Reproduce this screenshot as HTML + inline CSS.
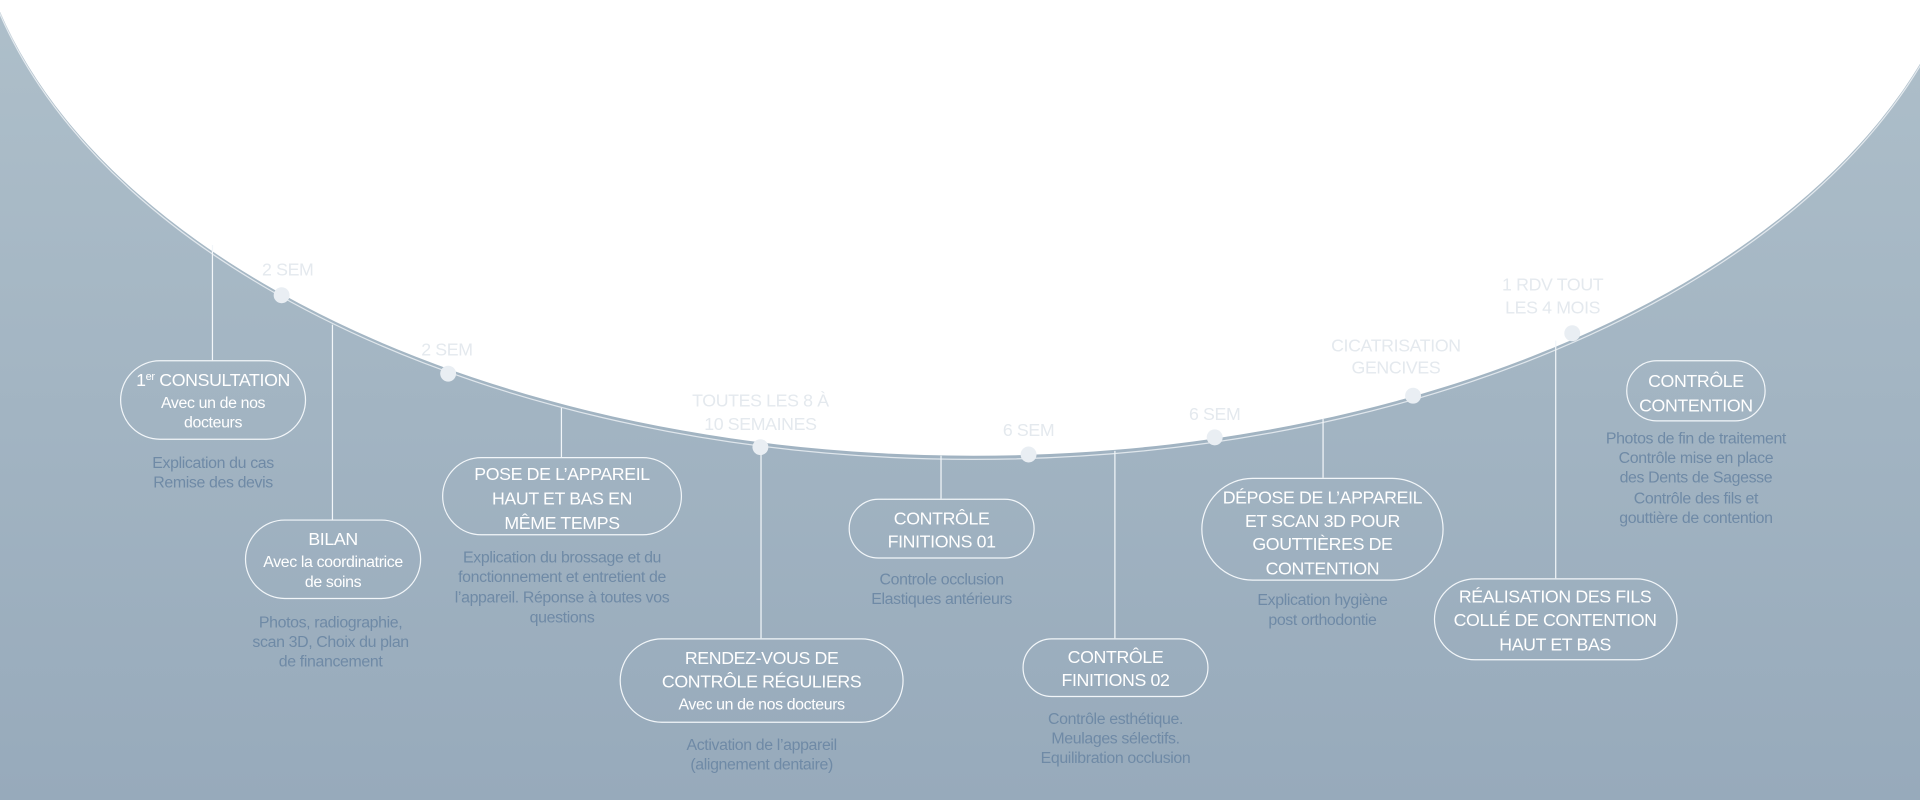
<!DOCTYPE html>
<html><head><meta charset="utf-8"><style>
html,body{margin:0;padding:0;width:1920px;height:800px;overflow:hidden}
svg{display:block}
text{font-family:"Liberation Sans",sans-serif;text-anchor:middle}
.t{fill:#fff;font-size:14.5px;font-weight:500;letter-spacing:-0.3px}
.s{fill:#fff;font-size:13px;letter-spacing:-0.3px}
.d{fill:#6f8aa6;font-size:13px;letter-spacing:-0.3px}
.l{fill:#e4e9ee;font-size:14.5px;letter-spacing:-0.3px}
.b{fill:none;stroke:#f2f6f9;stroke-width:1}
.v{stroke:#f2f6f9;stroke-width:1}
.dot{fill:#e9eef3}
</style></head><body>
<svg width="1920" height="800" viewBox="0 0 1568 653" preserveAspectRatio="none">
<defs><linearGradient id="g" x1="0" y1="0" x2="0" y2="1">
<stop offset="0" stop-color="#aebfca"/><stop offset="1" stop-color="#97aabb"/></linearGradient></defs>
<rect width="1568" height="653" fill="url(#g)"/>
<ellipse cx="795" cy="-108" rx="820.5" ry="483" fill="none" stroke="#f4f7fa" stroke-opacity="0.75" stroke-width="1"/>
<ellipse cx="795" cy="-108" rx="820" ry="480" fill="#fff"/>
<g class="v">
<line x1="173.5" y1="200" x2="173.5" y2="294"/>
<line x1="271.5" y1="265" x2="271.5" y2="424"/>
<line x1="458.5" y1="333" x2="458.5" y2="373"/>
<line x1="621.5" y1="365" x2="621.5" y2="521"/>
<line x1="768.5" y1="372" x2="768.5" y2="407"/>
<line x1="910.5" y1="368" x2="910.5" y2="521"/>
<line x1="1080.5" y1="342" x2="1080.5" y2="390"/>
<line x1="1270.5" y1="278" x2="1270.5" y2="472"/>
</g>
<g class="dot">
<circle cx="230" cy="241" r="6.5"/><circle cx="366" cy="305" r="6.5"/><circle cx="621" cy="365" r="6.5"/>
<circle cx="840" cy="371" r="6.5"/><circle cx="992" cy="357" r="6.5"/><circle cx="1154" cy="323" r="6.5"/><circle cx="1284" cy="272" r="6.5"/>
</g>
<text class="l" x="235" y="225">2 SEM</text>
<text class="l" x="365" y="290">2 SEM</text>
<text class="l" x="621" y="332">TOUTES LES 8 À</text>
<text class="l" x="621" y="351">10 SEMAINES</text>
<text class="l" x="840" y="356">6 SEM</text>
<text class="l" x="992" y="343">6 SEM</text>
<text class="l" x="1140" y="287">CICATRISATION</text>
<text class="l" x="1140" y="305">GENCIVES</text>
<text class="l" x="1268" y="237">1 RDV TOUT</text>
<text class="l" x="1268" y="256">LES 4 MOIS</text>

<rect class="b" x="98.5" y="294.5" width="151" height="64" rx="32"/>
<text class="t" x="174" y="315">1<tspan font-size="9" dy="-5">er</tspan><tspan dy="5"> CONSULTATION</tspan></text>
<text class="s" x="174" y="333">Avec un de nos</text>
<text class="s" x="174" y="349">docteurs</text>
<text class="d" x="174" y="382">Explication du cas</text>
<text class="d" x="174" y="398">Remise des devis</text>

<rect class="b" x="200.5" y="424.5" width="143" height="64" rx="32"/>
<text class="t" x="272" y="445">BILAN</text>
<text class="s" x="272" y="463">Avec la coordinatrice</text>
<text class="s" x="272" y="479">de soins</text>
<text class="d" x="270" y="512">Photos, radiographie,</text>
<text class="d" x="270" y="528">scan 3D, Choix du plan</text>
<text class="d" x="270" y="544">de financement</text>

<rect class="b" x="361.5" y="373.5" width="195" height="63" rx="31.5"/>
<text class="t" x="459" y="392">POSE DE L’APPAREIL</text>
<text class="t" x="459" y="412">HAUT ET BAS EN</text>
<text class="t" x="459" y="432">MÊME TEMPS</text>
<text class="d" x="459" y="459">Explication du brossage et du</text>
<text class="d" x="459" y="475">fonctionnement et entretient de</text>
<text class="d" x="459" y="492">l’appareil. Réponse à toutes vos</text>
<text class="d" x="459" y="508">questions</text>

<rect class="b" x="506.5" y="521.5" width="231" height="68" rx="34"/>
<text class="t" x="622" y="542">RENDEZ-VOUS DE</text>
<text class="t" x="622" y="561">CONTRÔLE RÉGULIERS</text>
<text class="s" x="622" y="579">Avec un de nos docteurs</text>
<text class="d" x="622" y="612">Activation de l’appareil</text>
<text class="d" x="622" y="628">(alignement dentaire)</text>

<rect class="b" x="693.5" y="407.5" width="151" height="48" rx="24"/>
<text class="t" x="769" y="428">CONTRÔLE</text>
<text class="t" x="769" y="447">FINITIONS 01</text>
<text class="d" x="769" y="477">Controle occlusion</text>
<text class="d" x="769" y="493">Elastiques antérieurs</text>

<rect class="b" x="835.5" y="521.5" width="151" height="47" rx="23.5"/>
<text class="t" x="911" y="541">CONTRÔLE</text>
<text class="t" x="911" y="560">FINITIONS 02</text>
<text class="d" x="911" y="591">Contrôle esthétique.</text>
<text class="d" x="911" y="607">Meulages sélectifs.</text>
<text class="d" x="911" y="623">Equilibration occlusion</text>

<rect class="b" x="981.5" y="390.5" width="197" height="83" rx="41.5"/>
<text class="t" x="1080" y="411">DÉPOSE DE L’APPAREIL</text>
<text class="t" x="1080" y="430">ET SCAN 3D POUR</text>
<text class="t" x="1080" y="449">GOUTTIÈRES DE</text>
<text class="t" x="1080" y="469">CONTENTION</text>
<text class="d" x="1080" y="494">Explication hygiène</text>
<text class="d" x="1080" y="510">post orthodontie</text>

<rect class="b" x="1171.5" y="472.5" width="198" height="66" rx="33"/>
<text class="t" x="1270" y="492">RÉALISATION DES FILS</text>
<text class="t" x="1270" y="511">COLLÉ DE CONTENTION</text>
<text class="t" x="1270" y="531">HAUT ET BAS</text>

<rect class="b" x="1328.5" y="294.5" width="113" height="49" rx="24.5"/>
<text class="t" x="1385" y="316">CONTRÔLE</text>
<text class="t" x="1385" y="336">CONTENTION</text>
<text class="d" x="1385" y="362">Photos de fin de traitement</text>
<text class="d" x="1385" y="378">Contrôle mise en place</text>
<text class="d" x="1385" y="394">des Dents de Sagesse</text>
<text class="d" x="1385" y="411">Contrôle des fils et</text>
<text class="d" x="1385" y="427">gouttière de contention</text>
</svg>
</body></html>
